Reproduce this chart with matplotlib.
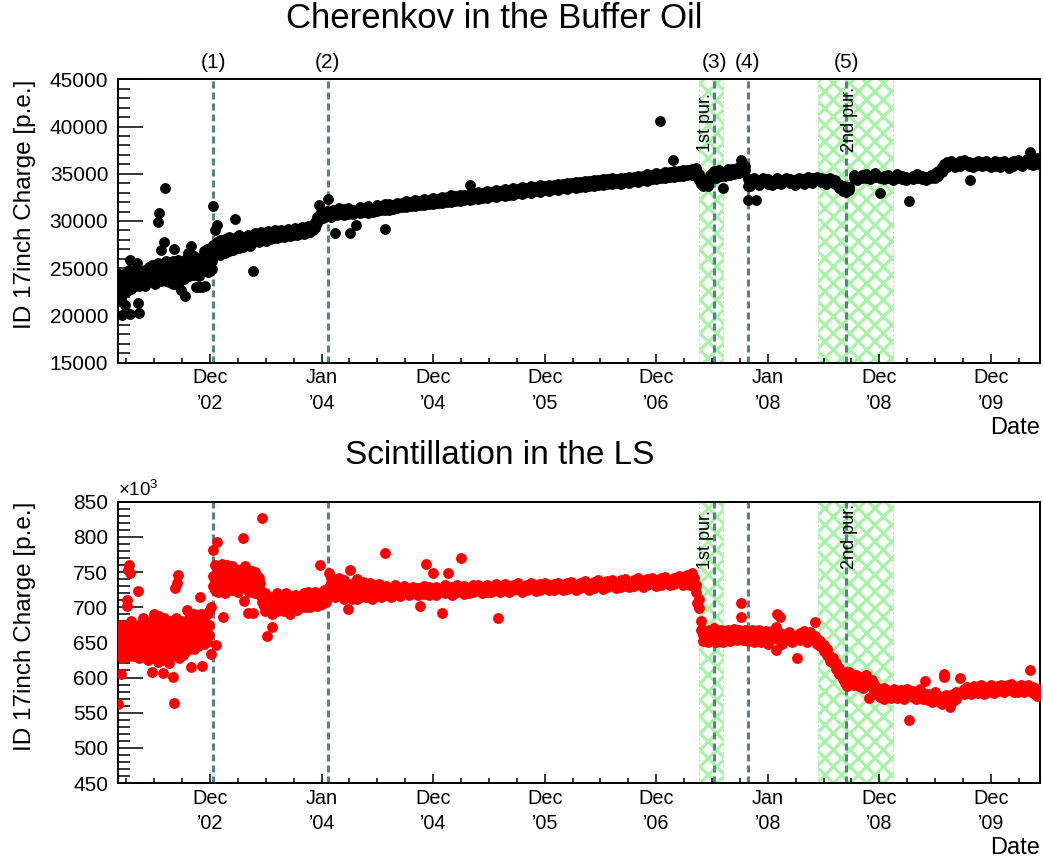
import matplotlib
matplotlib.use("Agg")
import matplotlib.pyplot as plt
from matplotlib.ticker import FixedLocator, NullFormatter

plt.rcParams['font.family'] = ['Liberation Sans', 'DejaVu Sans']
plt.rcParams['mathtext.fontset'] = 'custom'
plt.rcParams['mathtext.rm'] = 'Liberation Sans'
plt.rcParams['mathtext.it'] = 'Liberation Sans:italic'
plt.rcParams['hatch.linewidth'] = 2.3

# ---------------------------------------------------------------------------
# Daily mean ID 17inch charge, (decimal year, charges recorded around that day)
# ---------------------------------------------------------------------------
cherenkov_2002 = [
    (2002.100, (22800, 23900, 24400)), (2002.110, (23300, 22500, 24100)),
    (2002.120, (23700, 22900, 21600)), (2002.128, (20050, 24200)),
    (2002.135, (24000, 23100, 22200)), (2002.150, (23500, 24400, 22700)),
    (2002.158, (21100, 23800)), (2002.165, (23900, 22900)),
    (2002.180, (23200, 24200, 22600)), (2002.195, (23600, 24800)),
    (2002.200, (25870, 23000)), (2002.203, (20150,)),
    (2002.210, (23400, 22800, 24000)), (2002.225, (24100, 23000)),
    (2002.240, (23700, 24500, 23200)), (2002.255, (23300, 24000)),
    (2002.268, (25520, 23600)), (2002.277, (21290, 24200)),
    (2002.283, (20300, 23100)), (2002.295, (24300, 23500)),
    (2002.310, (23700, 24700)), (2002.325, (24100, 23300)),
    (2002.340, (23800, 24800, 23100)), (2002.355, (24400, 23600)),
    (2002.370, (24000, 25100)), (2002.385, (23700, 24600)),
    (2002.400, (24300, 23500, 25300)), (2002.415, (24700, 23900)),
    (2002.430, (24100, 25000, 23300)), (2002.445, (24500, 23800)),
    (2002.451, (29940,)), (2002.458, (24900, 24000, 25600)),
    (2002.465, (30800, 24300, 25200)), (2002.478, (26930, 24600, 23600)),
    (2002.495, (24800, 25400, 23900)), (2002.507, (27810, 24400)),
    (2002.516, (33470, 25100)), (2002.525, (24900, 23700, 25800)),
    (2002.540, (24200, 25300)), (2002.555, (24700, 23500, 25700)),
    (2002.570, (25100, 24300)), (2002.585, (24600, 25800, 23300)),
    (2002.597, (27030, 24900, 23800)), (2002.615, (25300, 24500)),
    (2002.630, (24800, 25900, 23200)), (2002.645, (24300, 25200)),
    (2002.660, (25000, 24000, 22700)), (2002.675, (24600, 25500)),
    (2002.690, (24900, 23900)), (2002.696, (22060,)),
    (2002.705, (25300, 24400, 26000)), (2002.720, (26580, 24800)),
    (2002.735, (25100, 24200)), (2002.750, (27350, 25500, 24600)),
    (2002.765, (24900, 25800)), (2002.780, (25200, 24300, 26300)),
    (2002.792, (23045, 24800)), (2002.805, (25400, 26100)),
    (2002.820, (25000, 24200, 23000)), (2002.835, (25600, 24700)),
    (2002.850, (25100, 26200, 23050)), (2002.865, (24800, 25700, 26800)),
    (2002.875, (23100, 25300, 26400)), (2002.890, (25000, 25900, 27000)),
    (2002.905, (24600, 25500, 26500)), (2002.920, (25200, 24700, 26900)),
    (2002.935, (25800, 24900)),
]

cherenkov_2003 = [
    (2002.950, (31590, 26700, 27500)), (2002.965, (29050, 27200, 26400)),
    (2002.980, (29580, 27000, 27800)), (2002.995, (26700, 27500)),
    (2003.010, (27300, 26400, 28000)), (2003.030, (27000, 27800)),
    (2003.050, (27400, 26600, 28100)), (2003.070, (27100, 27900)),
    (2003.090, (27500, 26800, 28300)), (2003.110, (27300, 28000)),
    (2003.130, (27600, 26900)), (2003.144, (30210, 28200)),
    (2003.160, (27500, 28300)), (2003.180, (27800, 27100, 28500)),
    (2003.200, (27600, 28200)), (2003.220, (27900, 27300)),
    (2003.240, (28300, 27600)), (2003.260, (27800, 28500)),
    (2003.280, (28000, 27400)), (2003.300, (28400, 27700)),
    (2003.308, (24740,)), (2003.320, (28100, 28700)),
    (2003.340, (27900, 28300)), (2003.360, (28500, 27800)),
    (2003.380, (28200, 28800)), (2003.400, (28000, 28400)),
    (2003.420, (28600, 27900)), (2003.440, (28300, 28900)),
    (2003.460, (28100, 28500)), (2003.480, (28700, 28200)),
    (2003.500, (28400, 29000)), (2003.520, (28200, 28600)),
    (2003.540, (28800, 28300)), (2003.560, (28500, 29100)),
    (2003.580, (28300, 28700)), (2003.600, (28900, 28400)),
    (2003.620, (28600, 29200)), (2003.640, (28400, 28800)),
    (2003.660, (29000, 28500)), (2003.680, (28700, 29300)),
    (2003.700, (28500, 28900)), (2003.720, (29100, 28600)),
    (2003.740, (28800, 29400)), (2003.760, (28600, 29000)),
    (2003.780, (29200, 28700)), (2003.800, (28900, 29500)),
    (2003.820, (28800, 29300)), (2003.840, (29600, 29000)),
    (2003.860, (29300, 29900)), (2003.880, (29800, 30400)),
    (2003.898, (31700, 30200)), (2003.915, (30500, 30900)),
    (2003.930, (30300, 30700)), (2003.950, (30800, 30400)),
    (2003.965, (30600, 31100)), (2003.981, (32300, 30500)),
    (2004.000, (30900, 30400)), (2004.020, (30700, 31200)),
    (2004.041, (28700, 30900)), (2004.060, (30600, 31100)),
    (2004.080, (30900, 31400)), (2004.100, (31200, 30700)),
]

cherenkov_2004_2007 = [
    (2004.12, (31250, 30650)), (2004.16, (31400, 30700)), (2004.176, (28700,)),
    (2004.20, (31150, 30750)), (2004.229, (29580, 31050)), (2004.26, (31450, 30800)),
    (2004.30, (31300, 30900)), (2004.34, (31550, 30850)), (2004.38, (31400, 31000)),
    (2004.42, (31700, 31050)), (2004.45, (31600, 31150)), (2004.487, (29120, 31750, 31200)),
    (2004.52, (31850, 31200)), (2004.56, (31700, 31300)), (2004.60, (31950, 31350)),
    (2004.64, (31900, 31450)), (2004.68, (32100, 31450)), (2004.72, (32000, 31600)),
    (2004.76, (32200, 31550)), (2004.80, (32150, 31700)), (2004.84, (32350, 31650)),
    (2004.88, (32250, 31850)), (2004.92, (32450, 31800)), (2004.96, (32350, 31950)),
    (2005.00, (32550, 31900)), (2005.04, (32500, 32050)), (2005.08, (32700, 32000)),
    (2005.12, (32600, 32150)), (2005.16, (32800, 32100)), (2005.20, (32700, 32250)),
    (2005.252, (33810, 32900, 32200)), (2005.28, (32850, 32350)), (2005.32, (33050, 32300)),
    (2005.36, (32950, 32450)), (2005.40, (33150, 32450)), (2005.44, (33050, 32600)),
    (2005.48, (33250, 32550)), (2005.52, (33200, 32700)), (2005.56, (33400, 32650)),
    (2005.60, (33300, 32800)), (2005.64, (33500, 32750)), (2005.68, (33400, 32950)),
    (2005.72, (33600, 32900)), (2005.76, (33500, 33050)), (2005.80, (33700, 33000)),
    (2005.84, (33600, 33150)), (2005.88, (33800, 33100)), (2005.92, (33700, 33250)),
    (2005.96, (33850, 33200)), (2006.00, (33800, 33350)), (2006.04, (33950, 33300)),
    (2006.08, (33900, 33450)), (2006.12, (34050, 33400)), (2006.16, (34000, 33550)),
    (2006.20, (34150, 33500)), (2006.24, (34100, 33650)), (2006.28, (34250, 33600)),
    (2006.32, (34200, 33750)), (2006.36, (34350, 33700)), (2006.40, (34300, 33850)),
    (2006.44, (34450, 33800)), (2006.48, (34400, 33950)), (2006.52, (34550, 33900)),
    (2006.56, (34450, 34050)), (2006.60, (34600, 33950)), (2006.64, (34550, 34100)),
    (2006.68, (34700, 34050)), (2006.72, (34650, 34200)), (2006.76, (34800, 34150)),
    (2006.80, (34750, 34300)), (2006.84, (34950, 34250)), (2006.88, (34900, 34400)),
    (2006.92, (35050, 34400)), (2006.95, (40590,)), (2006.96, (35000, 34550)),
    (2007.00, (35200, 34500)), (2007.04, (35150, 34650)), (2007.07, (36460,)),
    (2007.08, (35300, 34650)), (2007.12, (35250, 34800)), (2007.16, (35400, 34750)),
    (2007.20, (35350, 34900)), (2007.24, (35500, 34850)),
]

cherenkov_2007_2008 = [
    (2007.26, (35500, 35100)), (2007.28, (35650, 35200)), (2007.30, (34300, 35000)),
    (2007.32, (33900, 34400)), (2007.34, (33700, 34100)), (2007.36, (33800, 34300)),
    (2007.38, (34000, 33700)), (2007.40, (34400, 34900)), (2007.42, (34700, 35100)),
    (2007.44, (34900, 35300)), (2007.46, (34600, 35100)), (2007.48, (35000, 35400)),
    (2007.50, (34800, 35200)), (2007.518, (33530, 35000)), (2007.54, (35200, 34800)),
    (2007.56, (35000, 35500)), (2007.58, (35300, 34900)), (2007.60, (35100, 35500)),
    (2007.62, (35400, 35000)), (2007.64, (35200, 35600)), (2007.66, (35500, 35100)),
    (2007.682, (36460, 35300)), (2007.70, (35600, 35200)), (2007.72, (35400, 35800)),
    (2007.745, (32220, 33700, 34400)), (2007.76, (34100, 33700)), (2007.78, (34400, 33900)),
    (2007.80, (34000, 34500)), (2007.817, (32220, 34200)), (2007.84, (33800, 34300)),
    (2007.88, (34100, 34500)), (2007.92, (33900, 34400)), (2007.96, (34200, 33800)),
    (2008.00, (34500, 34000)), (2008.04, (33900, 34300)), (2008.08, (34200, 34600)),
    (2008.12, (34000, 34400)), (2008.16, (34300, 33800)), (2008.20, (34100, 34600)),
    (2008.24, (34400, 33900)), (2008.28, (34200, 34700)), (2008.32, (34500, 34000)),
    (2008.36, (34300, 34700)), (2008.40, (34100, 34500)), (2008.44, (34400, 33900)),
    (2008.48, (34200, 34600)), (2008.52, (33900, 34300)), (2008.56, (33500, 33900)),
    (2008.59, (33200, 33700)), (2008.62, (33400, 33100)), (2008.645, (33600, 33300)),
]

cherenkov_2008_2010 = [
    (2008.69, (34500, 34900)), (2008.72, (34700, 34300)), (2008.76, (34900, 34500)),
    (2008.80, (34600, 35000)), (2008.84, (34400, 34800)), (2008.88, (34700, 35100)),
    (2008.929, (33000, 34500)), (2008.96, (34800, 34400)), (2009.00, (34500, 34900)),
    (2009.04, (34300, 34700)), (2009.08, (34600, 35000)), (2009.12, (34400, 34800)),
    (2009.16, (34700, 34300)), (2009.187, (32120, 34500)), (2009.22, (34800, 34400)),
    (2009.26, (34600, 35000)), (2009.30, (34400, 34800)), (2009.34, (34700, 34300)),
    (2009.38, (34900, 34500)), (2009.42, (34600, 35100)), (2009.45, (35300, 34800)),
    (2009.48, (35700, 35200)), (2009.50, (36000, 35500)), (2009.53, (36200, 35700)),
    (2009.56, (35900, 36400)), (2009.60, (36100, 35700)), (2009.64, (36300, 35800)),
    (2009.68, (36000, 36500)), (2009.72, (35800, 36200)), (2009.736, (34340,)),
    (2009.76, (36100, 35700)), (2009.80, (35900, 36300)), (2009.84, (36200, 35800)),
    (2009.88, (35900, 36400)), (2009.92, (36100, 35700)), (2009.96, (35800, 36300)),
    (2010.00, (36200, 35700)), (2010.04, (35900, 36400)), (2010.08, (36100, 35600)),
    (2010.12, (36300, 35800)), (2010.16, (36000, 36500)), (2010.20, (35800, 36200)),
    (2010.24, (36100, 36600)), (2010.274, (37340, 36000)), (2010.30, (36400, 35900)),
    (2010.33, (36200, 36700)), (2010.35, (36000, 36400)),
]

# Scintillation light, in units of 10^3 p.e.
scint_2002 = [
    (2002.098, (563,)), (2002.100, (655, 668, 640)), (2002.110, (648, 662)),
    (2002.119, (605, 675)), (2002.125, (652, 638)), (2002.135, (660, 645, 628)),
    (2002.150, (655, 670, 640)), (2002.165, (648, 662, 630)), (2002.173, (701, 710)),
    (2002.180, (658, 672)), (2002.185, (753,)), (2002.194, (760,)),
    (2002.195, (645, 630)), (2002.202, (748,)), (2002.210, (662, 650, 680)),
    (2002.225, (655, 640, 668)), (2002.240, (648, 672, 630)), (2002.255, (660, 645)),
    (2002.270, (668, 638)), (2002.274, (723.5, 655)), (2002.285, (650, 675, 628)),
    (2002.300, (662, 645)), (2002.315, (655, 685, 635)), (2002.330, (648, 668)),
    (2002.345, (660, 640, 678)), (2002.360, (652, 670, 625)), (2002.375, (665, 642)),
    (2002.390, (650, 680, 632)), (2002.397, (608,)), (2002.405, (662, 645)),
    (2002.420, (655, 690, 628)), (2002.435, (668, 640)), (2002.450, (650, 675, 622)),
    (2002.465, (662, 645, 688)), (2002.480, (655, 635)), (2002.495, (670, 648, 625)),
    (2002.501, (606,)), (2002.510, (660, 685)), (2002.525, (652, 640, 672)),
    (2002.540, (665, 630)), (2002.555, (650, 680, 620)), (2002.570, (662, 642)),
    (2002.585, (655, 675, 632)), (2002.591, (601,)), (2002.597, (564,)),
    (2002.600, (648, 668)), (2002.606, (727,)), (2002.615, (660, 638, 685)),
    (2002.621, (734,)), (2002.630, (652, 672)), (2002.636, (746,)),
    (2002.645, (665, 640, 628)), (2002.660, (655, 680)), (2002.675, (648, 668, 632)),
    (2002.690, (662, 645)), (2002.705, (655, 678, 638)), (2002.711, (696,)),
    (2002.720, (668, 650)), (2002.735, (658, 685, 640)), (2002.750, (615, 665, 648)),
    (2002.765, (660, 675)), (2002.780, (652, 690, 640)), (2002.795, (668, 655)),
    (2002.810, (660, 680, 645)), (2002.830, (715, 665)), (2002.840, (655, 690)),
    (2002.851, (617, 670)), (2002.865, (660, 685, 648)), (2002.880, (672, 655)),
    (2002.895, (665, 690, 650)), (2002.910, (675, 660, 695)), (2002.926, (633, 700)),
]

scint_2003 = [
    (2002.950, (781, 745, 730)), (2002.965, (760, 738, 725)), (2002.974, (646,)),
    (2002.980, (750, 728)), (2002.986, (792,)), (2002.995, (742, 758, 722)),
    (2003.010, (735, 750)), (2003.025, (745, 728, 762)), (2003.035, (686.5,)),
    (2003.040, (740, 755)), (2003.055, (732, 748, 720)), (2003.070, (745, 760)),
    (2003.085, (738, 725, 752)), (2003.100, (748, 735)), (2003.115, (742, 758, 725)),
    (2003.130, (735, 750)), (2003.145, (745, 730, 755)), (2003.160, (740, 752)),
    (2003.175, (732, 748, 722)), (2003.190, (745, 738)), (2003.205, (740, 755, 728)),
    (2003.212, (798,)), (2003.220, (735, 750)), (2003.223, (709,)),
    (2003.235, (745, 728, 758)), (2003.250, (740, 752)), (2003.258, (692,)),
    (2003.265, (735, 748, 722)), (2003.280, (742, 730)), (2003.295, (738, 752, 725)),
    (2003.303, (692,)), (2003.310, (745, 732)), (2003.325, (740, 750, 720)),
    (2003.340, (735, 745)), (2003.355, (728, 742)), (2003.370, (718, 735)),
    (2003.385, (708, 722)), (2003.389, (827,)), (2003.400, (702, 715)),
    (2003.415, (708, 695, 720)), (2003.434, (659,)), (2003.440, (702, 716)),
    (2003.460, (712, 698)), (2003.479, (672, 705, 690)), (2003.500, (715, 700)),
    (2003.520, (706, 694, 720)), (2003.540, (710, 698)), (2003.560, (702, 716)),
    (2003.580, (712, 695)), (2003.600, (705, 720)), (2003.620, (698, 712)),
    (2003.640, (708, 690)), (2003.660, (715, 700)), (2003.680, (705, 718)),
    (2003.700, (710, 696)), (2003.720, (702, 716)), (2003.740, (712, 700)),
    (2003.760, (706, 720)), (2003.780, (715, 700)), (2003.800, (708, 722)),
    (2003.820, (712, 700)), (2003.840, (718, 705)), (2003.860, (710, 722)),
    (2003.880, (715, 702)), (2003.902, (760, 712)), (2003.920, (718, 705)),
    (2003.940, (712, 725)), (2003.960, (720, 708)),
]

scint_2004_2007 = [
    (2003.985, (748, 728)), (2004.000, (735, 718, 742)), (2004.020, (725, 740)),
    (2004.040, (730, 715)), (2004.060, (738, 722)), (2004.080, (725, 742)),
    (2004.100, (718, 732)), (2004.120, (728, 712, 738)), (2004.140, (735, 720)),
    (2004.161, (698, 725)), (2004.176, (753, 718)), (2004.195, (728, 712)),
    (2004.215, (720, 735)), (2004.235, (726, 712, 740)), (2004.255, (718, 730)),
    (2004.275, (732, 715)), (2004.295, (722, 736)), (2004.315, (714, 728)),
    (2004.335, (730, 718)), (2004.355, (720, 734)), (2004.375, (726, 712)),
    (2004.395, (718, 731)), (2004.415, (728, 716)), (2004.435, (721, 733)),
    (2004.455, (715, 727)), (2004.487, (777.5, 724)), (2004.500, (718, 730)),
    (2004.540, (726, 715)), (2004.580, (720, 731)), (2004.620, (727, 716)),
    (2004.660, (722, 730)), (2004.700, (726, 717)), (2004.740, (720, 729)),
    (2004.780, (727, 718)), (2004.806, (702, 723)), (2004.840, (719, 730)),
    (2004.855, (762,)), (2004.880, (728, 718)), (2004.916, (748, 722)),
    (2004.950, (717, 729)), (2005.000, (692, 726)), (2005.030, (720, 731)),
    (2005.056, (748.6, 724)), (2005.090, (729, 718)), (2005.130, (722, 732)),
    (2005.166, (770, 726)), (2005.200, (719, 730)), (2005.240, (727, 720)),
    (2005.280, (731, 721)), (2005.320, (724, 732)), (2005.360, (729, 720)),
    (2005.400, (722, 731)), (2005.440, (729, 721)), (2005.480, (724, 733)),
    (2005.499, (685,)), (2005.520, (730, 722)), (2005.560, (725, 733)),
    (2005.600, (721, 729)), (2005.640, (732, 724)), (2005.680, (726, 734)),
    (2005.720, (722, 730)), (2005.760, (732, 724)), (2005.800, (727, 734)),
    (2005.840, (723, 731)), (2005.880, (733, 725)), (2005.920, (727, 735)),
    (2005.960, (724, 732)), (2006.000, (733, 725)), (2006.040, (728, 735)),
    (2006.080, (724, 732)), (2006.120, (734, 726)), (2006.160, (728, 736)),
    (2006.200, (725, 732)), (2006.240, (735, 727)), (2006.280, (729, 737)),
    (2006.320, (725, 733)), (2006.360, (736, 727)), (2006.400, (730, 738)),
    (2006.440, (726, 734)), (2006.480, (737, 728)), (2006.520, (731, 739)),
    (2006.560, (727, 735)), (2006.600, (738, 729)), (2006.640, (732, 740)),
    (2006.680, (728, 736)), (2006.720, (739, 730)), (2006.760, (733, 741)),
    (2006.800, (729, 737)), (2006.840, (740, 731)), (2006.880, (734, 742)),
    (2006.920, (730, 738)), (2006.960, (741, 732)), (2007.000, (735, 743)),
    (2007.040, (731, 739)), (2007.080, (742, 733)), (2007.120, (736, 744)),
    (2007.160, (732, 740)), (2007.200, (738, 746)), (2007.220, (744, 732)),
    (2007.240, (749, 737)), (2007.260, (742, 730)), (2007.275, (722, 732)),
    (2007.288, (705.5,)), (2007.300, (699, 712)), (2007.318, (680, 668)),
]

scint_2007_2008 = [
    (2007.340, (660, 668, 652)), (2007.360, (655, 665)), (2007.380, (662, 650)),
    (2007.400, (668, 657)), (2007.420, (653, 663)), (2007.440, (660, 670)),
    (2007.460, (651, 661)), (2007.480, (664, 655)), (2007.500, (658, 668)),
    (2007.520, (650, 662)), (2007.540, (665, 656)), (2007.560, (659, 667)),
    (2007.580, (652, 662)), (2007.600, (666, 657)), (2007.620, (660, 669)),
    (2007.640, (653, 663)), (2007.660, (667, 658)), (2007.680, (705.5, 686.5, 661)),
    (2007.700, (654, 664)), (2007.720, (668, 658)), (2007.740, (661, 652)),
    (2007.760, (665, 656)), (2007.780, (658, 667)), (2007.800, (651, 661)),
    (2007.820, (664, 655)), (2007.840, (657, 667)), (2007.860, (650, 660)),
    (2007.880, (663, 654)), (2007.900, (656, 666)), (2007.920, (648, 659)),
    (2007.940, (662, 653)), (2007.960, (666, 656)), (2007.990, (639, 660, 672)),
    (2008.000, (691, 655)), (2008.030, (686, 664)), (2008.050, (657, 648)),
    (2008.080, (662, 653)), (2008.110, (655, 665)), (2008.140, (660, 650)),
    (2008.180, (628, 657)), (2008.210, (663, 654)), (2008.240, (657, 666)),
    (2008.270, (651, 661)), (2008.300, (665, 656)), (2008.343, (678.5, 659)),
    (2008.365, (655, 648)), (2008.390, (652, 645)), (2008.420, (646, 638)),
    (2008.450, (640, 632)), (2008.480, (630, 624)), (2008.500, (620, 628)),
    (2008.530, (612, 620)), (2008.560, (605, 613)), (2008.590, (598, 606)),
    (2008.615, (600, 592)), (2008.633, (588,)), (2008.645, (608,)),
]

scint_2008_2010 = [
    (2008.690, (598, 590)), (2008.710, (603, 593)), (2008.740, (596, 588)),
    (2008.770, (601, 585)), (2008.800, (594, 603)), (2008.824, (571, 590)),
    (2008.850, (597, 586)), (2008.870, (591, 581)), (2008.900, (585, 576)),
    (2008.930, (580, 572)), (2008.960, (578, 585, 570)), (2008.990, (574, 582)),
    (2009.020, (580, 571)), (2009.050, (576, 584)), (2009.080, (571, 579)),
    (2009.110, (582, 574)), (2009.140, (577, 569)), (2009.170, (584, 575)),
    (2009.189, (539.6, 578)), (2009.220, (572, 581)), (2009.250, (579, 570)),
    (2009.280, (575, 584)), (2009.310, (570, 578)), (2009.333, (595, 574)),
    (2009.360, (568, 577)), (2009.390, (574, 565)), (2009.420, (579, 569)),
    (2009.450, (566, 574)), (2009.480, (572, 563)), (2009.499, (605, 601, 570)),
    (2009.520, (565, 575)), (2009.557, (557.6, 570)), (2009.580, (576, 566)),
    (2009.610, (570, 580)), (2009.647, (600, 578)), (2009.680, (584, 576)),
    (2009.710, (579, 587)), (2009.740, (585, 577)), (2009.770, (580, 588)),
    (2009.800, (586, 578)), (2009.830, (581, 589)), (2009.860, (577, 585)),
    (2009.890, (587, 580)), (2009.920, (582, 590)), (2009.950, (578, 586)),
    (2009.980, (588, 581)), (2010.010, (583, 590)), (2010.040, (579, 587)),
    (2010.070, (589, 582)), (2010.100, (584, 591)), (2010.130, (580, 588)),
    (2010.160, (586, 579)), (2010.190, (582, 589)), (2010.220, (587, 580)),
    (2010.250, (583, 590)), (2010.274, (610.7, 581)), (2010.300, (586, 578)),
    (2010.330, (580, 574)), (2010.350, (576, 583)),
]

# Detector events and purification campaigns
event_labels = ['(1)', '(2)', '(3)', '(4)', '(5)']
event_times = [2002.947, 2003.976, 2007.440, 2007.739, 2008.625]
purification_spans = [(2007.300, 2007.520), (2008.367, 2009.043)]
purification_labels = ['1st pur.', '2nd pur.']
purification_label_x = [2007.362, 2008.648]

# Time axis
date_ticks = [2002.92, 2003.92, 2004.92, 2005.92, 2006.92, 2007.92, 2008.92, 2009.92]
date_labels = ["Dec\n\u201902", "Jan\n\u201904", "Dec\n\u201904", "Dec\n\u201905",
               "Dec\n\u201906", "Jan\n\u201908", "Dec\n\u201908", "Dec\n\u201909"]
date_range = (2002.095, 2010.36)

HATCH_GREEN = '#a8f2a8'
EVENT_BLUE = '#55808f'


def flatten(periods):
    ts, qs = [], []
    for period in periods:
        for t, values in period:
            for v in values:
                ts.append(t)
                qs.append(v)
    return ts, qs


def style_panel(ax, ylim, ymajor, yminor):
    ax.set_xlim(*date_range)
    ax.set_ylim(*ylim)
    ax.xaxis.set_major_locator(FixedLocator(date_ticks))
    ax.set_xticklabels(date_labels)
    minors = [date_ticks[0] - 0.75 + 0.25 * i for i in range(36)]
    ax.xaxis.set_minor_locator(FixedLocator([m for m in minors if date_range[0] < m < date_range[1]]))
    ax.yaxis.set_major_locator(FixedLocator(ymajor))
    ax.yaxis.set_minor_locator(FixedLocator(yminor))
    ax.yaxis.set_minor_formatter(NullFormatter())
    ax.tick_params(axis='x', which='major', direction='in', length=6.5, width=1.1,
                   labelsize=14.3, pad=4, top=False)
    ax.tick_params(axis='x', which='minor', direction='in', length=3.6, width=1.1, top=False)
    ax.tick_params(axis='y', which='major', direction='in', length=18, width=1.1,
                   labelsize=15, pad=7, right=False)
    ax.tick_params(axis='y', which='minor', direction='in', length=8.6, width=1.1, right=False)
    for lab in ax.get_xticklabels():
        lab.set_linespacing(1.45)
    for sp in ax.spines.values():
        sp.set_linewidth(1.4)


def draw_panel(ax, periods, color, text_y):
    for (a, b) in purification_spans:
        ax.axvspan(a, b, facecolor='white', edgecolor=HATCH_GREEN, hatch='xx',
                   linewidth=0.8, linestyle=(0, (2, 2)), zorder=1)
    for t in event_times:
        ax.axvline(t, color=EVENT_BLUE, linewidth=2.2, dashes=(2.3, 1.3), zorder=2)
    for x, lab in zip(purification_label_x, purification_labels):
        ax.text(x, text_y, lab, rotation=90, ha='center', va='bottom',
                fontsize=13, zorder=4, clip_on=True)
    ts, qs = flatten(periods)
    ax.plot(ts, qs, linestyle='none', marker='o', ms=7.8, color=color,
            mec='none', zorder=3)


fig = plt.figure(figsize=(10.43, 8.63), dpi=100)
ax1 = fig.add_axes([118 / 1043, 1 - 362.7 / 863, 922 / 1043, 283.4 / 863])
ax2 = fig.add_axes([118 / 1043, 1 - 783 / 863, 922 / 1043, 281.3 / 863])

draw_panel(ax1, [cherenkov_2002, cherenkov_2003, cherenkov_2004_2007,
                 cherenkov_2007_2008, cherenkov_2008_2010], 'black', 37300)
style_panel(ax1, (15000, 45000), list(range(15000, 45001, 5000)),
            list(range(15000, 45001, 1000)))

draw_panel(ax2, [scint_2002, scint_2003, scint_2004_2007,
                 scint_2007_2008, scint_2008_2010], '#ff0000', 754)
style_panel(ax2, (450, 850), list(range(450, 851, 50)), list(range(450, 851, 10)))
ax2.text(0.0, 1.021, '×10$^{3}$', transform=ax2.transAxes, fontsize=13.5,
         ha='left', va='baseline')

# event numbers above the upper panel
for t, lab in zip(event_times, event_labels):
    ax1.text(t, 1.061, lab, transform=ax1.get_xaxis_transform(), ha='center',
             va='center', fontsize=15)

ylabel = 'ID 17inch Charge [p.e.]'
fig.text(25 / 1043, 1 - 79.3 / 863, ylabel, rotation=90, ha='center', va='top', fontsize=17.5)
fig.text(25 / 1043, 1 - 501.7 / 863, ylabel, rotation=90, ha='center', va='top', fontsize=17.5)

fig.text(494 / 1043, 1 - 18 / 863, 'Cherenkov in the Buffer Oil', ha='center', va='center', fontsize=25)
fig.text(500 / 1043, 1 - 455 / 863, 'Scintillation in the LS', ha='center', va='center', fontsize=24)

fig.text(1040 / 1043, 1 - 428 / 863, 'Date', ha='right', va='center', fontsize=17)
fig.text(1040 / 1043, 1 - 848 / 863, 'Date', ha='right', va='center', fontsize=17)

fig.savefig('out.png', dpi=100)
